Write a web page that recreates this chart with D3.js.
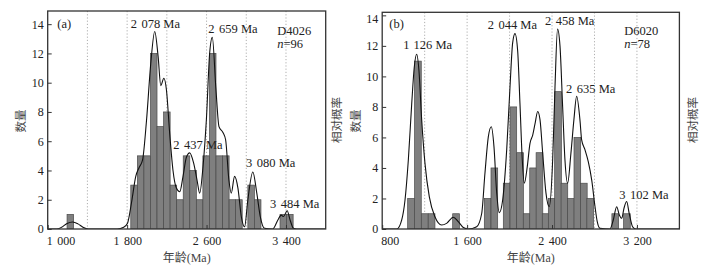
<!DOCTYPE html>
<html><head><meta charset="utf-8">
<script src="https://cdn.jsdelivr.net/npm/d3@7"></script>
<style>body{margin:0;background:#fff}svg{display:block}</style>
</head><body>
<svg id="chart" width="718" height="280"></svg>
<script>
// ---------- Data: panel (a) D4026 ----------
const binStartA = [1195, 1837, 1903, 1969, 2035, 2101, 2167, 2233, 2299, 2365, 2431, 2497, 2563, 2629, 2695, 2761, 2827, 2893, 3016, 3082, 3340, 3406];
const countA    = [1,    3,    5,    5,    12,   7,    8,    3,    2,    5,    4,    2,    5,    12,   5,    5,    2,    2,    3,    2,    1,    1];
const binWidthA = 66;
const curveAgeA = [1000,1090,1140,1195,1251,1305,1355,1410,1700,1765,1804,1844,1887,1921,1955,1995,2038,2078,2112,2139,2170,2196,2229,2262,2296,2330,2363,2397,2430,2470,2504,2531,2564,2598,2631,2658,2694,2725,2765,2792,2825,2849,2882,2916,2950,2983,3016,3066,3106,3141,3184,3267,3317,3352,3375,3412,3442,3475,3510,3800];
const curveValA = [0,0,0.12,0.38,0.48,0.35,0.12,0,0,0.12,0.4,1.8,3.6,4.2,4.7,7.4,11.3,13.5,11.8,9.8,10.3,9.5,6.5,4.0,2.8,2.55,3.6,4.9,5.2,4.5,3.35,2.45,4.25,7.45,12.0,13.1,9.6,7.0,6.6,6.1,3.35,2.45,3.6,2.8,0.85,0.15,2.0,3.9,2.45,0.85,0.05,0,0.6,0.95,0.85,1.25,0.6,0.05,0,0];
const peakLabelsA = ["2 078 Ma", "2 659 Ma", "2 437 Ma", "3 080 Ma", "3 484 Ma"];
const xTicksA = [1000, 1800, 2600, 3400];
const gridA = [1400, 1800, 2200, 2600, 3000, 3400];
const yTicks = [0, 2, 4, 6, 8, 10, 12, 14];

// ---------- Data: panel (b) D6020 ----------
const binStartB = [1040, 1105, 1170, 1234, 1464, 1762, 1825, 1941, 2004, 2067, 2129, 2190, 2250, 2308, 2365, 2425, 2485, 2546, 2607, 2668, 2728, 2964, 3074];
const countB    = [2,    11,   1,    1,    1,    2,    4,    3,    8,    5,    1,    4,    5,    1,    2,    9,    3,    2,    6,    3,    2,    1,    1];
const binWidthB = 63;
const curveAgeB = [800,937,984,1015,1046,1078,1102,1125,1146,1172,1203,1244,1297,1360,1407,1470,1517,1564,1611,1690,1737,1768,1800,1828,1853,1879,1903,1935,1973,2004,2029,2051,2076,2098,2120,2139,2167,2192,2218,2240,2265,2287,2312,2343,2374,2406,2428,2452,2475,2500,2522,2547,2578,2606,2632,2663,2679,2710,2742,2774,2805,2826,2852,2946,2977,3009,3034,3056,3078,3103,3127,3159,3190,3600];
const curveValB = [0,0,0.6,1.9,4.5,8.2,10.6,11.45,10.4,7.15,4.3,2.1,0.8,0.26,0.37,0.77,0.48,0.1,0,0.15,1.0,3.65,6.05,6.7,5.4,2.35,1.07,1.9,5.2,9.3,12.2,12.8,11.7,8.2,4.5,3.0,4.1,5.6,6.15,6.9,7.7,7.15,4.96,2.35,1.46,4.5,9.3,13.1,12.0,8.0,4.5,3.0,4.96,7.15,8.7,7.15,5.84,5.2,4.4,3.2,1.46,0.48,0.04,0,0.59,1.46,0.92,0.7,1.36,1.8,1.03,0.15,0,0];
const peakLabelsB = ["1 126 Ma", "2 044 Ma", "2 458 Ma", "2 635 Ma", "3 102 Ma"];
const xTicksB = [800, 1600, 2400, 3200];
const gridB = [1200, 1600, 2000, 2400, 2800, 3200];

// ---------- Drawing ----------
const svg = d3.select("#chart");
const serif = "'Liberation Serif','Times New Roman',serif";
const cjk = "'Noto Sans CJK SC','Noto Sans CJK JP',sans-serif";
const GAP = 4.5;

// split "2 078 Ma" into "2" + gap + "078 Ma" so the thousands gap is controlled
function splitText(sel, str) {
  const i = str.indexOf(" ");
  sel.text(null);
  if (i < 0 || (str.length > 3 && !/^\d \d/.test(str))) { sel.text(str); return; }
  sel.append("tspan").text(str.slice(0, i));
  sel.append("tspan").attr("dx", GAP).text(str.slice(i + 1));
}
const fmt = d => { const s = String(d); return s.length > 3 ? s.slice(0, s.length - 3) + " " + s.slice(-3) : s; };

function panel(o) {
  const x = d3.scaleLinear().domain(o.xDomain).range([o.left, o.right]);
  const y = d3.scaleLinear().domain(o.yDomain).range([o.bottom, o.top]);
  const g = svg.append("g");
  const clipId = "clip" + o.id;
  svg.append("clipPath").attr("id", clipId).append("rect")
    .attr("x", o.left).attr("y", o.top).attr("width", o.right - o.left).attr("height", o.bottom - o.top);

  g.selectAll("line.grid").data(o.grid).join("line")
    .attr("x1", d => x(d)).attr("x2", d => x(d)).attr("y1", o.top).attr("y2", o.bottom)
    .attr("stroke", "#9a9a9a").attr("stroke-width", 0.8).attr("stroke-dasharray", "1.2,2");

  const bars = o.starts.map((s, i) => ({ s, c: o.counts[i] }));
  g.append("g").attr("clip-path", `url(#${clipId})`).selectAll("rect").data(bars).join("rect")
    .attr("x", d => x(d.s)).attr("width", d => x(d.s + o.binWidth) - x(d.s))
    .attr("y", d => y(d.c)).attr("height", d => y(0) - y(d.c))
    .attr("fill", "#7f7f7f").attr("stroke", "#4a4a4a").attr("stroke-width", 0.7);

  const pts = o.curveAge.map((a, i) => [a, o.curveVal[i]]);
  g.append("path").datum(pts).attr("clip-path", `url(#${clipId})`)
    .attr("d", d3.line().x(d => x(d[0])).y(d => y(d[1])).curve(d3.curveMonotoneX))
    .attr("fill", "none").attr("stroke", "#111").attr("stroke-width", 1.1);

  g.append("rect").attr("x", o.left).attr("y", o.top).attr("width", o.right - o.left).attr("height", o.bottom - o.top)
    .attr("fill", "none").attr("stroke", "#333").attr("stroke-width", 1.3);

  const ya = g.append("g").attr("transform", `translate(${o.left},0)`)
    .call(d3.axisLeft(y).tickValues(yTicks).tickSize(-4).tickPadding(4));
  ya.select(".domain").remove();
  ya.selectAll("line").attr("stroke", "#333");
  ya.selectAll("text").attr("font-family", serif).attr("font-size", 12).attr("fill", "#222");
  if (o.topTickShift) ya.selectAll("text").filter(d => d === 14).attr("transform", `translate(0,${o.topTickShift})`);

  const xa = g.append("g").attr("transform", `translate(0,${o.bottom})`)
    .call(d3.axisBottom(x).tickValues(o.xTicks).tickSize(-4).tickPadding(7.5).tickFormat(fmt));
  xa.select(".domain").remove();
  xa.selectAll("line").attr("stroke", "#333");
  xa.selectAll("text").attr("font-family", serif).attr("font-size", 12).attr("fill", "#222")
    .each(function(d) { splitText(d3.select(this), fmt(d)); });
  xa.selectAll("text").filter(d => d === o.xDomain[0]).attr("text-anchor", "start").attr("x", -1.5);

  g.append("text").attr("x", (o.left + o.right) / 2).attr("y", 262).attr("text-anchor", "middle")
    .attr("fill", "#444").attr("font-size", 12)
    .selectAll("tspan").data([["年龄", cjk], ["(Ma)", serif]]).join("tspan")
    .attr("font-family", d => d[1]).text(d => d[0]);
  g.append("text").attr("transform", `translate(${o.leftTitleX},121) rotate(-90)`).attr("text-anchor", "middle")
    .attr("dominant-baseline", "central").attr("font-family", cjk).attr("font-size", 11.5).attr("fill", "#444").text("数量");
  g.append("text").attr("transform", `translate(${o.rightTitleX},120) rotate(-90)`).attr("text-anchor", "middle")
    .attr("dominant-baseline", "central").attr("font-family", cjk).attr("font-size", 11.5).attr("fill", "#444").text("相对概率");

  g.append("text").attr("x", o.letterPos[0]).attr("y", o.letterPos[1]).attr("font-family", serif).attr("font-size", 12.5).attr("fill", "#222").text(o.letter);
  g.append("text").attr("x", o.samplePos[0]).attr("y", o.samplePos[1]).attr("font-family", serif).attr("font-size", 12.5).attr("fill", "#222").text(o.sample);
  const nt = g.append("text").attr("x", o.samplePos[0]).attr("y", o.samplePos[1] + 12.7).attr("font-family", serif).attr("font-size", 12.5).attr("fill", "#222");
  nt.append("tspan").attr("font-style", "italic").text("n");
  nt.append("tspan").text("=" + o.n);

  g.selectAll("text.peak").data(o.peakLabels).join("text").attr("class", "peak")
    .attr("x", (d, i) => o.peakPos[i][0]).attr("y", (d, i) => o.peakPos[i][1])
    .attr("font-family", serif).attr("font-size", 12.5).attr("fill", "#222")
    .each(function(d) { splitText(d3.select(this), d); });
}

panel({
  id: "a", left: 47.7, right: 325.7, top: 11, bottom: 229,
  xDomain: [1000, 3800], yDomain: [0, 14.9],
  grid: gridA, xTicks: xTicksA,
  starts: binStartA, counts: countA, binWidth: binWidthA,
  curveAge: curveAgeA, curveVal: curveValA,
  leftTitleX: 20, rightTitleX: 336,
  letter: "(a)", letterPos: [57.3, 27.5],
  sample: "D4026", samplePos: [277.3, 35], n: 96,
  peakLabels: peakLabelsA,
  peakPos: [[130.7, 27.5], [208.3, 33.3], [173.3, 149], [246, 166.7], [270, 207.7]]
});

panel({
  id: "b", left: 382.2, right: 679.4, top: 12.3, bottom: 229,
  xDomain: [800, 3600], yDomain: [0, 14.2],
  grid: gridB, xTicks: xTicksB,
  starts: binStartB, counts: countB, binWidth: binWidthB,
  curveAge: curveAgeB, curveVal: curveValB,
  leftTitleX: 355, rightTitleX: 691.5,
  letter: "(b)", letterPos: [389.3, 28.3],
  sample: "D6020", samplePos: [624.3, 35], n: 78,
  peakLabels: peakLabelsB,
  peakPos: [[403.3, 49.3], [487.7, 29.3], [545, 25], [566, 92.7], [619.3, 199.3]],
  topTickShift: 3
});
</script>
</body></html>
